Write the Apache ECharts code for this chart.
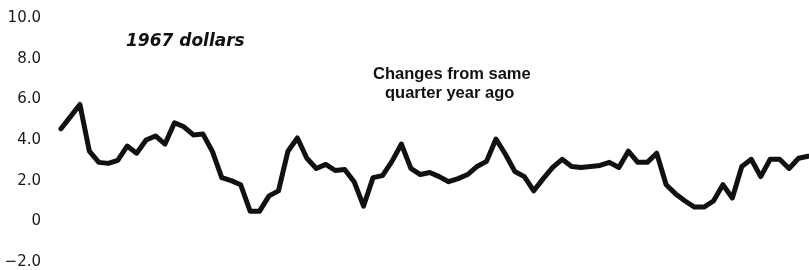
<!DOCTYPE html>
<html>
<head>
<meta charset="utf-8">
<script src="https://cdn.jsdelivr.net/npm/echarts@6/dist/echarts.min.js"></script>
<style>
  html, body { margin: 0; padding: 0; background: #fff; }
  #chart { width: 809px; height: 270px; }
</style>
</head>
<body>
<div id="chart"></div>
<script>
// quarterly changes, percent, 1967 dollars
var values = [
  4.55, 5.15, 5.75, 3.45, 2.9, 2.85, 3.0, 3.7, 3.35, 4.0,
  4.2, 3.8, 4.85, 4.65, 4.25, 4.3, 3.45, 2.15, 2.0, 1.8,
  0.5, 0.5, 1.25, 1.5, 3.45, 4.1, 3.1, 2.6, 2.8, 2.5,
  2.55, 1.95, 0.75, 2.15, 2.25, 2.95, 3.8, 2.6, 2.3, 2.4,
  2.2, 1.95, 2.1, 2.3, 2.7, 2.95, 4.05, 3.3, 2.45, 2.2,
  1.5, 2.1, 2.65, 3.05, 2.7, 2.65, 2.7, 2.75, 2.9, 2.65,
  3.45, 2.9, 2.9, 3.35, 1.8, 1.35, 1.0, 0.7, 0.7, 1.0,
  1.8, 1.15, 2.7, 3.05, 2.2, 3.05, 3.05, 2.6, 3.1, 3.2
];
var quarters = values.map(function (v, i) { return 'Q' + (i + 1); });
var yTicks = { min: -2, max: 10, interval: 2 };

var chart = echarts.init(document.getElementById('chart'), null, { renderer: 'canvas' });

var option = {
  animation: false,
  backgroundColor: '#fff',
  grid: {
    left: 61,
    right: 1,
    top: 18,
    bottom: 8
  },
  xAxis: {
    type: 'category',
    data: quarters,
    boundaryGap: false,
    axisLine: { show: false },
    axisTick: { show: false },
    axisLabel: { show: false },
    splitLine: { show: false }
  },
  yAxis: {
    type: 'value',
    min: yTicks.min,
    max: yTicks.max,
    interval: yTicks.interval,
    axisLine: { show: false },
    axisTick: { show: false },
    splitLine: { show: false },
    axisLabel: {
      margin: 20,
      color: '#1a1a1a',
      fontSize: 15,
      fontFamily: 'DejaVu Sans, sans-serif',
      formatter: function (v) {
        if (v === 0) return '0';
        return v < 0 ? '\u2212' + Math.abs(v).toFixed(1) : v.toFixed(1);
      }
    }
  },
  series: [{
    type: 'line',
    data: values,
    symbol: 'none',
    lineStyle: { color: '#111', width: 5, join: 'round', cap: 'round' }
  }],
  graphic: [
    {
      type: 'text',
      left: 126,
      top: 33,
      style: {
        text: '1967 dollars',
        fill: '#111',
        font: 'italic bold 17px "DejaVu Sans", sans-serif'
      }
    },
    {
      type: 'text',
      left: 373,
      top: 66,
      style: {
        text: 'Changes from same',
        fill: '#111',
        font: 'bold 16.5px "Liberation Sans", sans-serif'
      }
    },
    {
      type: 'text',
      left: 385,
      top: 85,
      style: {
        text: 'quarter year ago',
        fill: '#111',
        font: 'bold 16.5px "Liberation Sans", sans-serif'
      }
    }
  ]
};

chart.setOption(option);
</script>
</body>
</html>
